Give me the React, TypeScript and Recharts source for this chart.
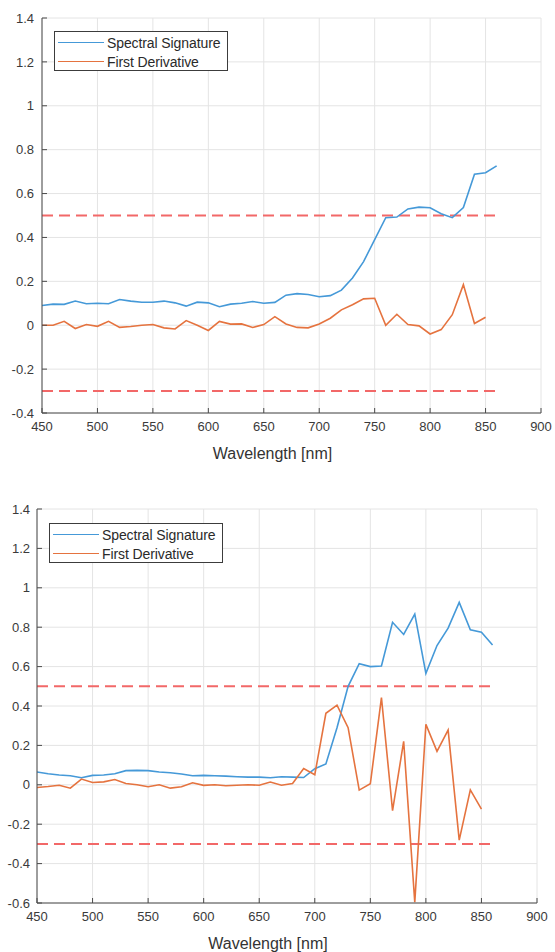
import { LineChart, Line, XAxis, YAxis, CartesianGrid, ReferenceLine, Label } from 'recharts'

const wavelengths = [
  450, 460, 470, 480, 490, 500, 510, 520, 530, 540, 550, 560, 570, 580, 590, 600, 610, 620, 630, 640, 650,
  660, 670, 680, 690, 700, 710, 720, 730, 740, 750, 760, 770, 780, 790, 800, 810, 820, 830, 840, 850, 860,
]

const topSpectral = [
  0.09, 0.096, 0.095, 0.11, 0.098, 0.1, 0.098, 0.117, 0.11, 0.105, 0.105, 0.11, 0.102, 0.087, 0.105, 0.102,
  0.084, 0.096, 0.1, 0.108, 0.1, 0.104, 0.137, 0.144, 0.14, 0.13, 0.135, 0.16, 0.215, 0.29, 0.39, 0.49, 0.493,
  0.53, 0.538, 0.535, 0.508, 0.49, 0.536, 0.688, 0.695, 0.726,
]
const topDerivative = [
  0, 0, 0.018, -0.015, 0.003, -0.005, 0.018, -0.01, -0.006, 0, 0.003, -0.012, -0.017, 0.021, 0, -0.024, 0.017,
  0.005, 0.006, -0.01, 0.003, 0.039, 0.006, -0.01, -0.012, 0.006, 0.032, 0.07, 0.093, 0.12, 0.123, 0, 0.05,
  0.003, -0.003, -0.04, -0.02, 0.048, 0.185, 0.008, 0.036,
]

const bottomSpectral = [
  0.065, 0.056, 0.05, 0.046, 0.036, 0.048, 0.05, 0.056, 0.072, 0.073, 0.072, 0.065, 0.061, 0.055, 0.046, 0.048,
  0.046, 0.044, 0.041, 0.039, 0.039, 0.036, 0.041, 0.039, 0.037, 0.082, 0.106, 0.29, 0.5, 0.615, 0.6, 0.603,
  0.825, 0.763, 0.866, 0.566, 0.707, 0.795, 0.926, 0.787, 0.774, 0.71,
]
const bottomDerivative = [
  -0.014, -0.009, -0.002, -0.017, 0.029, 0.012, 0.015, 0.027, 0.007, 0, -0.01, 0, -0.017, -0.01, 0.01, -0.003,
  0, -0.005, -0.002, 0, -0.002, 0.014, -0.002, 0.007, 0.083, 0.051, 0.363, 0.404, 0.29, -0.027, 0.005, 0.443,
  -0.131, 0.221, -0.596, 0.307, 0.17, 0.278, -0.281, -0.026, -0.123,
]

const xTicks = [450, 500, 550, 600, 650, 700, 750, 800, 850, 900]
const topYTicks = [-0.4, -0.2, 0, 0.2, 0.4, 0.6, 0.8, 1, 1.2, 1.4]
const bottomYTicks = [-0.6, -0.4, -0.2, 0, 0.2, 0.4, 0.6, 0.8, 1, 1.2, 1.4]
const thresholds = [0.5, -0.3]
const thresholdRange = [450, 860]

const BLUE = '#4599d8'
const ORANGE = '#e5733f'
const FONT = '"Liberation Sans", Arial, Helvetica, sans-serif'

const buildRows = (spec: number[], deriv: number[]) =>
  wavelengths.map((wl, i) => ({
    wl,
    spectral: spec[i],
    derivative: i < deriv.length ? deriv[i] : null,
  }))

const fmt = (v: number) => String(Number(v.toFixed(1)))

function LegendBox({ left, top }: { left: number; top: number }) {
  const row = (color: string, text: string) => (
    <div style={{ display: 'flex', alignItems: 'center', height: 19 }}>
      <div style={{ width: 46, height: 0, borderTop: `1.5px solid ${color}`, marginLeft: 3, marginRight: 3 }} />
      <span style={{ fontSize: 14, color: '#2a2a2a', letterSpacing: -0.1 }}>{text}</span>
    </div>
  )
  return (
    <div
      style={{
        position: 'absolute',
        left,
        top,
        width: 174,
        height: 40,
        border: '1.5px solid #3c3c3c',
        background: '#fff',
        fontFamily: FONT,
        paddingTop: 1,
        boxSizing: 'border-box',
      }}
    >
      {row(BLUE, 'Spectral Signature')}
      {row(ORANGE, 'First Derivative')}
    </div>
  )
}

type PanelProps = {
  spec: number[]
  deriv: number[]
  yTicks: number[]
  height: number
  margin: { top: number; right: number; left: number; bottom: number }
  yWidth: number
  yTickMargin: number
}

function Panel({ spec, deriv, yTicks, height, margin, yWidth, yTickMargin }: PanelProps) {
  const data = buildRows(spec, deriv)
  const tickStyle = { fontSize: 13, fill: '#3a3a3a', fontFamily: FONT }
  return (
    <LineChart width={555} height={height} data={data} margin={margin}>
      <CartesianGrid stroke="#e4e4e4" strokeWidth={1} />
      <XAxis
        dataKey="wl"
        type="number"
        domain={[450, 900]}
        ticks={xTicks}
        allowDataOverflow
        height={46}
        stroke="#4a4a4a"
        tick={tickStyle}
        tickSize={-5}
        tickMargin={14}
      >
        <Label
          value="Wavelength [nm]"
          position="insideBottom"
          offset={0}
          dx={-19}
          style={{ fontSize: 16, fill: '#333', fontFamily: FONT }}
        />
      </XAxis>
      <YAxis
        type="number"
        domain={[yTicks[0], yTicks[yTicks.length - 1]]}
        ticks={yTicks}
        allowDataOverflow
        width={yWidth}
        stroke="#4a4a4a"
        tick={tickStyle}
        tickSize={-5}
        tickMargin={yTickMargin}
        tickFormatter={fmt}
      />
      {thresholds.map((t) => (
        <ReferenceLine
          key={t}
          segment={[
            { x: thresholdRange[0], y: t },
            { x: thresholdRange[1], y: t },
          ]}
          stroke="#f26868"
          strokeWidth={2}
          strokeDasharray="11 6"
        />
      ))}
      <Line
        dataKey="spectral"
        stroke={BLUE}
        strokeWidth={1.6}
        dot={false}
        isAnimationActive={false}
        type="linear"
      />
      <Line
        dataKey="derivative"
        stroke={ORANGE}
        strokeWidth={1.6}
        dot={false}
        isAnimationActive={false}
        type="linear"
        connectNulls={false}
      />
    </LineChart>
  )
}

export default function App() {
  return (
    <div style={{ position: 'absolute', left: 0, top: 0, width: 555, height: 952, background: '#fff' }}>
      <div style={{ position: 'absolute', left: 0, top: 0 }}>
        <Panel
          spec={topSpectral}
          deriv={topDerivative}
          yTicks={topYTicks}
          height={470}
          margin={{ top: 18, right: 14, left: 8, bottom: 11 }}
          yWidth={34}
          yTickMargin={13}
        />
        <LegendBox left={54} top={31} />
      </div>
      <div style={{ position: 'absolute', left: 0, top: 470 }}>
        <Panel
          spec={bottomSpectral}
          deriv={bottomDerivative}
          yTicks={bottomYTicks}
          height={482}
          margin={{ top: 39, right: 18, left: 7, bottom: 3 }}
          yWidth={30}
          yTickMargin={12}
        />
        <LegendBox left={49} top={53} />
      </div>
    </div>
  )
}
